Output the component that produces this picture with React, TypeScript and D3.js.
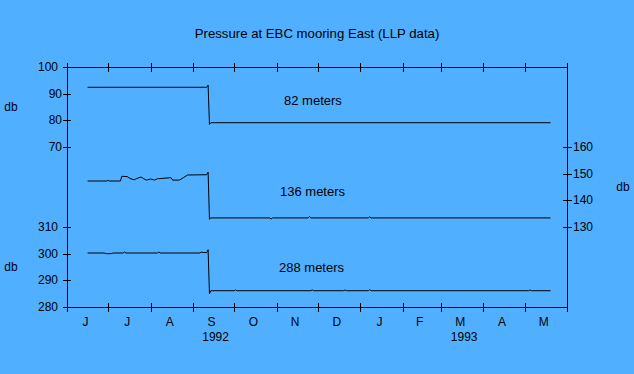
import * as React from 'react';
import * as d3 from 'd3';

// months along the time axis (June 1992 - May 1993)
const monthLetters = ['J', 'J', 'A', 'S', 'O', 'N', 'D', 'J', 'F', 'M', 'A', 'M'];
const yearLabels = [
  { month: 3, text: '1992' },
  { month: 9, text: '1993' },
];

const leftTopTicks = [100, 90, 80, 70];
const leftBottomTicks = [310, 300, 290, 280];
const rightTicks = [160, 150, 140, 130];

// 82 meters instrument
const dates82 = ['1992-06-16', '1992-09-11', '1992-09-12', '1992-09-13', '1992-09-14', '1993-05-20'];
const values82 = [92.4, 92.4, 93.2, 78.5, 79.1, 79.1];

// 136 meters instrument
const dates136 = [
  '1992-06-16', '1992-06-30', '1992-07-01', '1992-07-02', '1992-07-10', '1992-07-11', '1992-07-15',
  '1992-07-17', '1992-07-20', '1992-07-22', '1992-07-25', '1992-07-27', '1992-07-29', '1992-08-01',
  '1992-08-04', '1992-08-06', '1992-08-09', '1992-08-16', '1992-08-17', '1992-08-22', '1992-08-25',
  '1992-08-28', '1992-09-11', '1992-09-12', '1992-09-13', '1992-09-14', '1992-10-27', '1992-10-28',
  '1992-10-29', '1992-11-24', '1992-11-25', '1992-11-26', '1993-01-07', '1993-01-08', '1993-01-09',
  '1993-05-20',
];
const values136 = [
  147.25, 147.25, 147.45, 147.25, 147.25, 149.0, 148.9,
  148.2, 147.7, 148.2, 148.75, 148.1, 147.6, 148.0,
  147.6, 148.1, 148.2, 148.5, 147.6, 147.6, 148.5,
  149.5, 149.6, 150.6, 132.9, 133.4, 133.4, 133.0,
  133.4, 133.4, 133.9, 133.4, 133.4, 133.8, 133.4,
  133.4,
];

// 288 meters instrument
const dates288 = [
  '1992-06-16', '1992-06-28', '1992-06-30', '1992-07-03', '1992-07-05', '1992-07-12', '1992-07-13',
  '1992-07-14', '1992-08-06', '1992-08-07', '1992-08-08', '1992-09-06', '1992-09-07', '1992-09-09',
  '1992-09-11', '1992-09-12', '1992-09-13', '1992-09-14', '1992-10-01', '1992-10-02', '1992-10-03',
  '1992-11-26', '1992-11-27', '1992-11-28', '1992-12-20', '1992-12-21', '1992-12-22', '1993-01-07',
  '1993-01-08', '1993-01-09', '1993-05-04', '1993-05-05', '1993-05-06', '1993-05-20',
];
const values288 = [
  300.25, 300.25, 300.0, 300.0, 300.25, 300.25, 300.6,
  300.25, 300.25, 300.6, 300.25, 300.25, 300.6, 300.4,
  300.4, 301.5, 285.0, 286.1, 286.1, 286.4, 286.1,
  286.1, 286.4, 286.1, 286.1, 286.4, 286.1, 286.1,
  286.5, 286.1, 286.1, 286.4, 286.1, 286.1,
];

const seriesLabels = ['82 meters', '136 meters', '288 meters'];

const W = 634, H = 374;
const left = 67, right = 567, top = 67, bottom = 307;
const font = 'Arial, "Liberation Sans", Helvetica, sans-serif';

export default function App() {
  const parse = d3.timeParse('%Y-%m-%d');
  const x = d3.scaleTime()
    .domain([new Date(1992, 5, 1), new Date(1993, 5, 1)])
    .range([left, right]);
  // three series share pixel spacing but sit on offset scales
  const yTop = d3.scaleLinear().domain([10, 100]).range([bottom, top]);
  const yMid = d3.scaleLinear().domain([100, 190]).range([bottom, top]);
  const yBot = d3.scaleLinear().domain([280, 370]).range([bottom, top]);

  const months = d3.timeMonth.range(new Date(1992, 5, 1), new Date(1993, 5, 2));

  const mkLine = (dates: string[], values: number[], y: any) => {
    const pts = dates.map((d, i) => [x(parse(d) as Date), y(values[i])] as [number, number]);
    return d3.line()(pts) || '';
  };

  const px = (v: number) => Math.round(v) + 0.5;

  return (
    <svg width={W} height={H} style={{ position: 'absolute', left: 0, top: 0, background: '#50b0ff' }}
      fontFamily={font} fontSize={12}>
      <rect x={0} y={0} width={W} height={H} fill="#50b0ff" />
      <text x={317} y={38} textAnchor="middle" fontSize={13.2}>Pressure at EBC mooring East (LLP data)</text>

      {/* frame */}
      <g stroke="#000" strokeWidth={1} shapeRendering="crispEdges" fill="none">
        <line x1={px(left)} x2={px(right)} y1={px(top)} y2={px(top)} />
        <line x1={px(left)} x2={px(right)} y1={px(bottom)} y2={px(bottom)} />
        <line x1={px(left)} x2={px(left)} y1={px(top)} y2={px(bottom)} />
        <line x1={px(right)} x2={px(right)} y1={px(top)} y2={px(bottom)} />
        {months.map((m, i) => (
          <g key={i}>
            <line x1={px(x(m))} x2={px(x(m))} y1={top - 4} y2={top + 5} />
            <line x1={px(x(m))} x2={px(x(m))} y1={bottom - 4} y2={bottom + 5} />
          </g>
        ))}
        {leftTopTicks.map(t => (
          <line key={'lt' + t} x1={left - 4} x2={left + 4} y1={px(yTop(t))} y2={px(yTop(t))} />
        ))}
        {leftBottomTicks.map(t => (
          <line key={'lb' + t} x1={left - 4} x2={left + 4} y1={px(yBot(t))} y2={px(yBot(t))} />
        ))}
        {rightTicks.map(t => (
          <line key={'r' + t} x1={right - 4} x2={right + 5} y1={px(yMid(t))} y2={px(yMid(t))} />
        ))}
      </g>

      {/* tick labels */}
      {leftTopTicks.map(t => (
        <text key={'ltl' + t} x={String(t).length > 2 ? 58 : 62} y={yTop(t) + 4} textAnchor="end">{t}</text>
      ))}
      {leftBottomTicks.map(t => (
        <text key={'lbl' + t} x={58} y={yBot(t) + 4} textAnchor="end">{t}</text>
      ))}
      {rightTicks.map(t => (
        <text key={'rl' + t} x={573} y={yMid(t) + 4}>{t}</text>
      ))}
      {monthLetters.map((l, i) => {
        const mid = (x(months[i]) + x(months[i + 1])) / 2;
        return <text key={'m' + i} x={mid - 2} y={326} textAnchor="middle">{l}</text>;
      })}
      {yearLabels.map(yl => {
        const mid = (x(months[yl.month]) + x(months[yl.month + 1])) / 2;
        return <text key={yl.text} x={mid + 2} y={341} textAnchor="middle">{yl.text}</text>;
      })}

      <text x={11} y={111} textAnchor="middle">db</text>
      <text x={11} y={271} textAnchor="middle">db</text>
      <text x={623} y={191} textAnchor="middle">db</text>

      {/* series */}
      <g fill="none" stroke="#000" strokeWidth={1}>
        <path d={mkLine(dates82, values82, yTop)} />
        <path d={mkLine(dates136, values136, yMid)} />
        <path d={mkLine(dates288, values288, yBot)} />
      </g>

      <g fontSize={13}>
        <text x={284} y={104.5}>{seriesLabels[0]}</text>
        <text x={280} y={195.5}>{seriesLabels[1]}</text>
        <text x={279} y={272}>{seriesLabels[2]}</text>
      </g>
    </svg>
  );
}
